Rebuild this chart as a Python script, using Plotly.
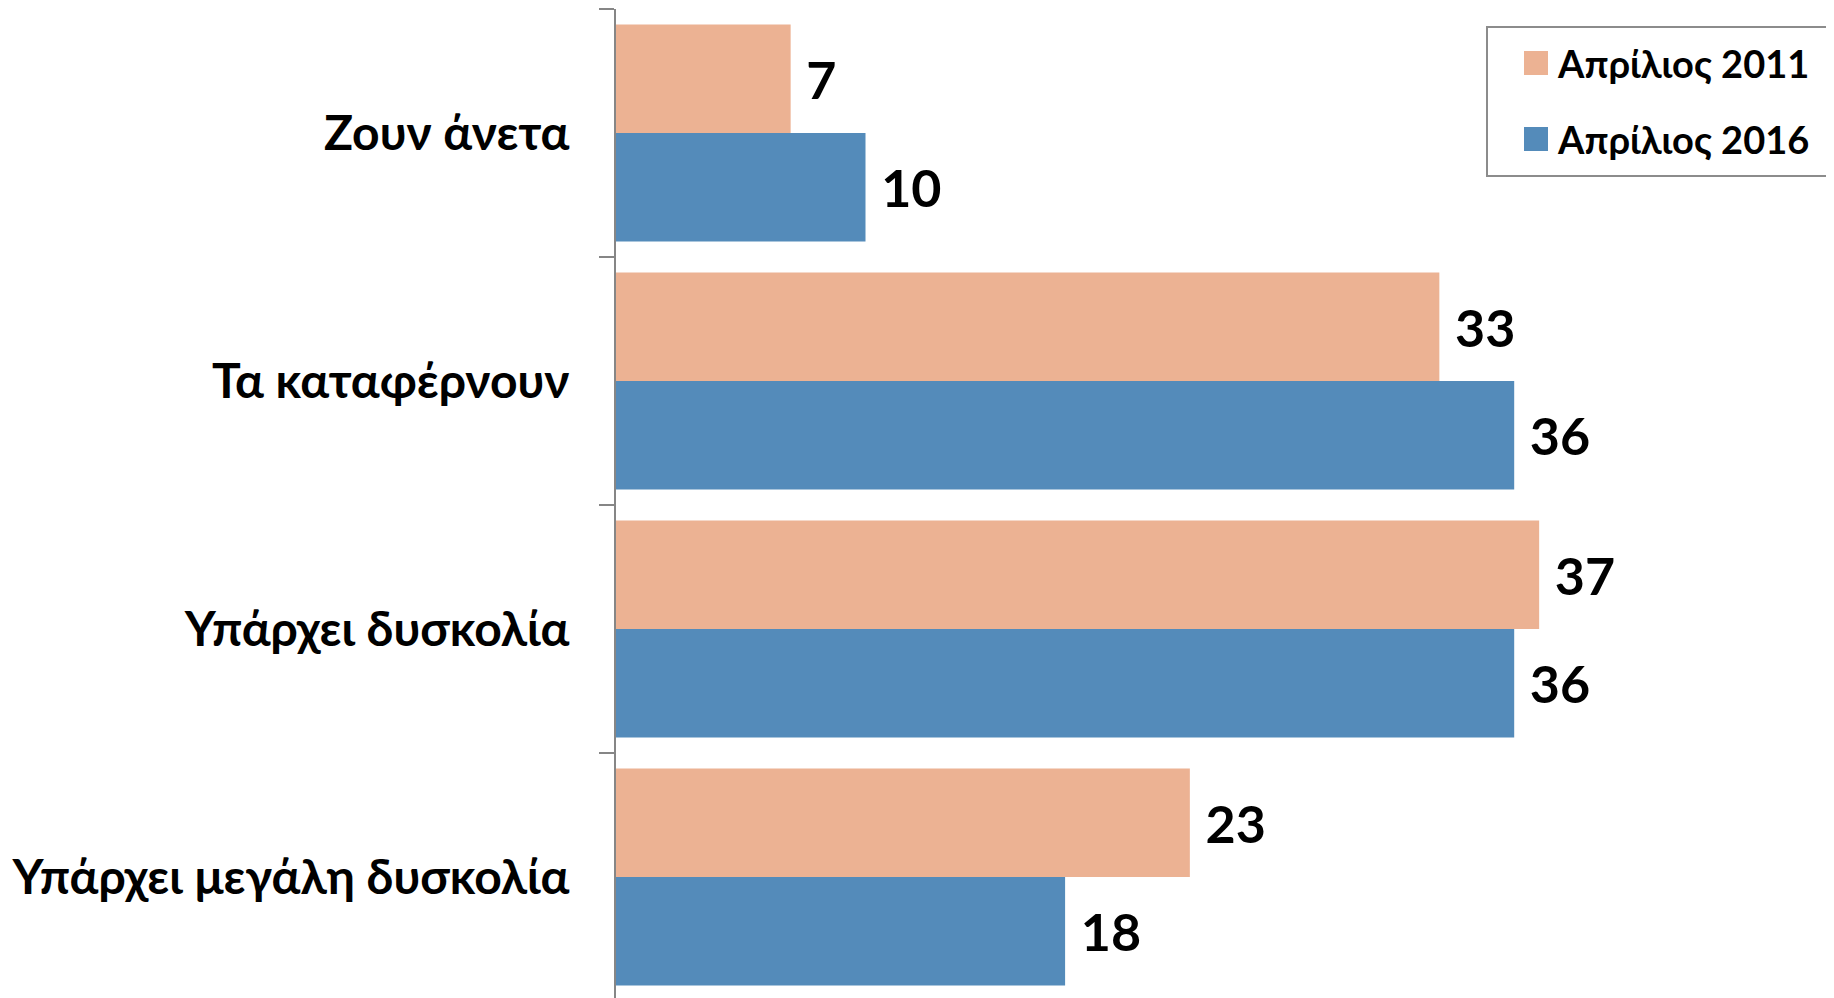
import plotly.graph_objects as go

categories = ["Ζουν άνετα", "Τα καταφέρνουν", "Υπάρχει δυσκολία", "Υπάρχει μεγάλη δυσκολία"]
series_names = ["Απρίλιος 2011", "Απρίλιος 2016"]
values_2011 = [7, 33, 37, 23]
values_2016 = [10, 36, 36, 18]

COLORS = ["#ECB293", "#548BBA"]
FONT = "Lato"

# the page body has an 8px margin, so the figure starts at (8, 8) on screen
OFF = 8
W, H = 1834, 998
L, R, T, B = 608, 0, 1, 5
PW, PH = W - L - R, H - T - B


def px_x(x):
    return (x - OFF - L) / PW


def px_y(y):
    return 1 - (y - OFF - T) / PH


fig = go.Figure()
for name, vals, color in zip(series_names, [values_2011, values_2016], COLORS):
    fig.add_trace(go.Bar(
        name=name,
        y=categories,
        x=vals,
        orientation="h",
        marker=dict(color=color, line=dict(width=0)),
        text=vals,
        texttemplate=" %{x}",
        textposition="outside",
        textfont=dict(family=FONT, size=52, color="black", weight="bold"),
        cliponaxis=False,
        showlegend=False,
    ))

# legend drawn by hand so the swatches can be large
shapes = [dict(type="rect", xref="paper", yref="paper",
               x0=px_x(1487), x1=px_x(1850), y0=px_y(176), y1=px_y(27),
               line=dict(color="#8C8C8C", width=2), fillcolor="white")]
annotations = []
for i, (name, color) in enumerate(zip(series_names, COLORS)):
    cy = 63 + i * 76
    shapes.append(dict(type="rect", xref="paper", yref="paper",
                       x0=px_x(1524), x1=px_x(1548), y0=px_y(cy + 12), y1=px_y(cy - 12),
                       line=dict(width=0), fillcolor=color))
    annotations.append(dict(xref="paper", yref="paper", x=px_x(1555), y=px_y(cy),
                            xanchor="left", yanchor="middle", text=name, showarrow=False,
                            font=dict(family=FONT, size=38, color="black", weight="bold")))

fig.update_layout(
    width=W, height=H,
    margin=dict(l=L, r=R, t=T, b=B),
    barmode="group",
    bargap=0.126,
    bargroupgap=0,
    plot_bgcolor="white",
    paper_bgcolor="white",
    shapes=shapes,
    annotations=annotations,
    xaxis=dict(range=[0, PW / 24.95], visible=False),
    yaxis=dict(
        type="category",
        autorange="reversed",
        showline=True, linecolor="#868686", linewidth=2,
        ticks="outside", tickson="boundaries", ticklen=15, tickwidth=2, tickcolor="#868686",
        ticklabelstandoff=35,
        tickfont=dict(family=FONT, size=48, color="black", weight="bold"),
        showgrid=False,
    ),
)

fig.write_html("out.html")
